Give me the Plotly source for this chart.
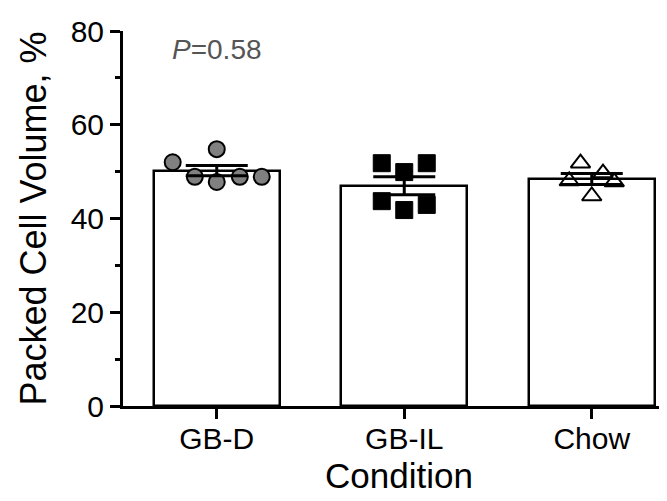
import numpy as np
import plotly.graph_objects as go

categories = ["GB-D", "GB-IL", "Chow"]
gbd_values = [52.0, 54.8, 48.9, 47.8, 48.9, 48.9]
gbil_values = [51.8, 49.9, 51.8, 43.7, 41.8, 42.9]
chow_values = [51.8, 48.0, 49.7, 47.8, 44.8]
# horizontal scatter offsets of the points (category units)
gbd_offsets = [-0.235, 0.0, -0.117, 0.0, 0.123, 0.24]
gbil_offsets = [-0.12, 0.0, 0.12, -0.12, 0.0, 0.12]
chow_offsets = [-0.06, -0.12, 0.06, 0.12, 0.0]
y_ticks = [0, 20, 40, 60, 80]
p_label = "<i>P</i>=0.58"

groups = [gbd_values, gbil_values, chow_values]
offsets = [gbd_offsets, gbil_offsets, chow_offsets]
means = [float(np.mean(g)) for g in groups]
sems = [float(np.std(g, ddof=1) / np.sqrt(len(g))) for g in groups]

FONT = "Liberation Sans, Arial, sans-serif"

fig = go.Figure()
fig.add_trace(go.Bar(
    x=list(range(len(categories))), y=means, width=0.67,
    marker=dict(color="white", line=dict(color="black", width=2.5)),
    showlegend=False, hoverinfo="skip",
))

styles = [
    dict(symbol="circle", size=16, color="#808080", line=dict(color="black", width=2)),
    dict(symbol="square", size=17, color="black", line=dict(color="black", width=1)),
    dict(symbol="triangle-up-open", size=17, color="black", line=dict(color="black", width=2)),
]
for i, (vals, offs, st) in enumerate(zip(groups, offsets, styles)):
    fig.add_trace(go.Scatter(
        x=[i + o for o in offs], y=vals, mode="markers",
        marker=st, showlegend=False, hoverinfo="skip",
    ))

fig.add_trace(go.Scatter(
    x=list(range(len(categories))), y=means, mode="markers",
    marker=dict(size=1, opacity=0),
    error_y=dict(type="data", array=sems, visible=True, color="black",
                 thickness=3, width=31),
    showlegend=False, hoverinfo="skip",
))

fig.add_annotation(x=0, y=76, xref="x", yref="y", text=p_label,
                   showarrow=False, xanchor="center", yanchor="middle",
                   font=dict(family=FONT, size=28, color="#555555"))

fig.update_layout(
    width=667, height=501,
    margin=dict(l=115, r=0, t=23, b=103),
    paper_bgcolor="white", plot_bgcolor="white",
    font=dict(family=FONT, color="black"),
    bargap=0,
)
fig.update_xaxes(
    range=[-0.5, 2.444], tickmode="array",
    tickvals=list(range(len(categories))), ticktext=categories,
    showline=True, linecolor="black", linewidth=3,
    ticks="outside", ticklen=10, tickwidth=3, tickcolor="black",
    ticklabelstandoff=-6,
    showgrid=False, zeroline=False,
    tickfont=dict(size=30, family=FONT),
    title=dict(text="Condition", font=dict(size=35, family=FONT), standoff=10),
)
fig.update_yaxes(
    range=[0, 80], tickmode="array", tickvals=y_ticks,
    showline=True, linecolor="black", linewidth=3,
    ticks="outside", ticklen=10, tickwidth=3, tickcolor="black",
    minor=dict(tickvals=[10, 30, 50, 70], ticks="outside", ticklen=5,
               tickwidth=3, tickcolor="black", showgrid=False),
    showgrid=False, zeroline=False,
    tickfont=dict(size=30, family=FONT),
    title=dict(text="Packed Cell Volume, %", font=dict(size=36, family=FONT), standoff=14),
)

fig.write_html("out.html")
